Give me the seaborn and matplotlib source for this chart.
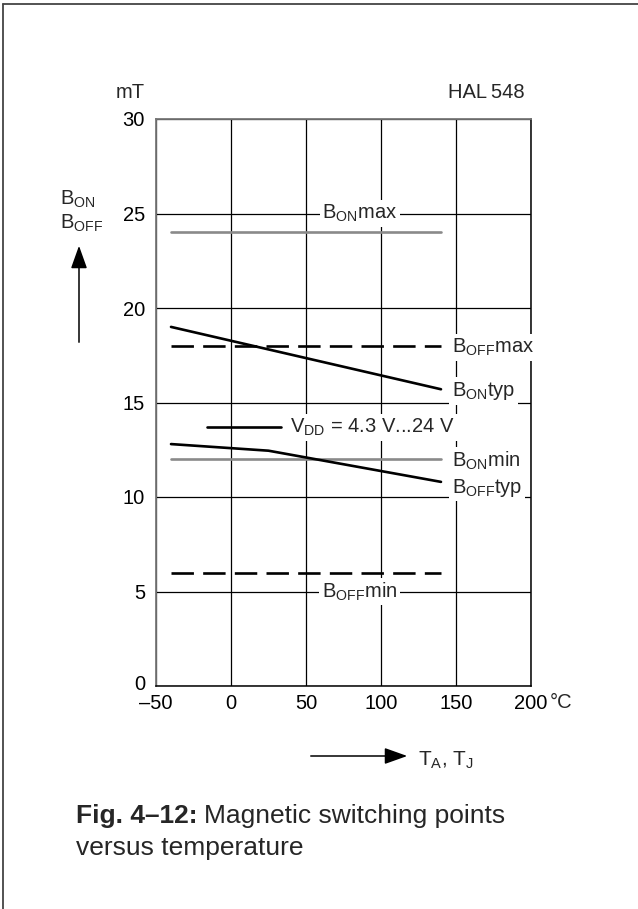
import numpy as np
import pandas as pd
import matplotlib
matplotlib.use("Agg")
import matplotlib.pyplot as plt
import matplotlib.transforms as mtransforms
from matplotlib.lines import Line2D
import seaborn as sns

# data (mT vs degC)
t_range = [-40, 140]
bon_max = [24, 24]
boff_max = [18, 18]
bon_min = [12, 12]
boff_min = [6, 6]
bon_typ_t = [-40, 140]
bon_typ = [19.0, 15.7]
boff_typ_t = [-40, 25, 140]
boff_typ = [12.8, 12.45, 10.8]
vdd_key_t = [-16, 33]
vdd_key_y = [13.7, 13.7]

x_ticks = [-50, 0, 50, 100, 150, 200]
x_labels = ["\u201350", "0", "50", "100", "150", "200"]
y_ticks = [0, 5, 10, 15, 20, 25, 30]

sns.set_style("white")
plt.rcParams["font.family"] = ["Liberation Sans", "DejaVu Sans"]
plt.rcParams["mathtext.fontset"] = "custom"
plt.rcParams["mathtext.rm"] = "Liberation Sans"
plt.rcParams["mathtext.it"] = "Liberation Sans"

W, H = 638, 909
fig = plt.figure(figsize=(W / 100, H / 100), dpi=100)
ax = fig.add_axes([156 / W, 1 - 686 / H, 375 / W, 567 / H])


def fx(px):
    return px / W


def fy(py):
    return 1 - py / H


gray = "#8a8a8a"
lw = 1.9
sns.lineplot(x=t_range, y=bon_max, ax=ax, color=gray, lw=lw)
sns.lineplot(x=t_range, y=bon_min, ax=ax, color=gray, lw=lw)
sns.lineplot(x=t_range, y=boff_max, ax=ax, color="black", lw=lw)
sns.lineplot(x=t_range, y=boff_min, ax=ax, color="black", lw=lw)
sns.lineplot(x=bon_typ_t, y=bon_typ, ax=ax, color="black", lw=lw)
sns.lineplot(x=boff_typ_t, y=boff_typ, ax=ax, color="black", lw=lw)
sns.lineplot(x=vdd_key_t, y=vdd_key_y, ax=ax, color="black", lw=lw)
for ln in ax.lines[2:4]:
    ln.set_dashes((8.5, 3.5))

ax.set_xlim(-50, 200)
ax.set_ylim(0, 30)
ax.set_xticks(x_ticks)
ax.set_xticklabels(x_labels)
ax.set_yticks(y_ticks)
fs = 14.5
ax.tick_params(length=0, labelsize=fs, colors="black")
ax.tick_params(axis="x", pad=6)
ax.tick_params(axis="y", pad=8)
ax.grid(True, color="black", lw=0.9)
ax.set_axisbelow(True)
for side in ["left", "top"]:
    ax.spines[side].set_color("#777777")
    ax.spines[side].set_linewidth(1.3)
for side in ["bottom", "right"]:
    ax.spines[side].set_color("black")
    ax.spines[side].set_linewidth(1.1)
ax.set_xlabel("")
ax.set_ylabel("")

# lift the "0" on the y axis a little so it clears the "-50" below it
zero_lbl = ax.get_yticklabels()[0]
zero_lbl.set_transform(zero_lbl.get_transform() +
                       mtransforms.ScaledTranslation(0, 4 / 100, fig.dpi_scale_trans))

box = dict(facecolor="white", edgecolor="none", pad=2)
ax.text(86, 25, r"B$_{\mathrm{ON}}$max", ha="center", va="center", fontsize=fs, bbox=box)
ax.text(147.5, 17.9, r"B$_{\mathrm{OFF}}$max", ha="left", va="center", fontsize=fs, bbox=box)
ax.text(147.5, 15.6, r"B$_{\mathrm{ON}}$typ", ha="left", va="center", fontsize=fs, bbox=box)
ax.text(147.5, 11.9, r"B$_{\mathrm{ON}}$min", ha="left", va="center", fontsize=fs, bbox=box)
ax.text(147.5, 10.5, r"B$_{\mathrm{OFF}}$typ", ha="left", va="center", fontsize=fs, bbox=box)
ax.text(85.5, 5, r"B$_{\mathrm{OFF}}$min", ha="center", va="center", fontsize=fs, bbox=box)
ax.text(39.5, 13.7, r"V$_{\mathrm{DD}}$ = 4.3 V...24 V", ha="left", va="center", fontsize=fs, bbox=box)

# labels outside the axes
fig.text(fx(550), fy(703), "\u00b0C", ha="left", va="center", fontsize=fs)
fig.text(fx(145), fy(92), "mT", ha="right", va="center", fontsize=fs)
fig.text(fx(525), fy(92), "HAL\u2009548", ha="right", va="center", fontsize=fs)
fig.text(fx(60), fy(205), r"B$_{\mathrm{ON}}$", ha="left", va="baseline", fontsize=fs)
fig.text(fx(60), fy(229), r"B$_{\mathrm{OFF}}$", ha="left", va="baseline", fontsize=fs)
fig.add_artist(matplotlib.patches.FancyArrowPatch(
    (fx(79), fy(345)), (fx(79), fy(243)), transform=fig.transFigure,
    arrowstyle="-|>,head_length=0.7,head_width=0.25", mutation_scale=20,
    color="black", lw=1.1))
fig.add_artist(matplotlib.patches.FancyArrowPatch(
    (fx(308), fy(756)), (fx(410), fy(756)), transform=fig.transFigure,
    arrowstyle="-|>,head_length=0.7,head_width=0.25", mutation_scale=20,
    color="black", lw=1.1))
fig.text(fx(418), fy(766), r"T$_{\mathrm{A}}$, T$_{\mathrm{J}}$", ha="left", va="baseline", fontsize=15)

# caption
cap_fs = 19
t1 = fig.text(fx(76), fy(823), "Fig. 4\u201312:", ha="left", va="baseline",
              fontsize=cap_fs, fontweight="bold")
r = fig.canvas.get_renderer()
bb = t1.get_window_extent(renderer=r)
fig.text(bb.x1 / W + 7 / W, fy(823), "Magnetic switching points", ha="left",
         va="baseline", fontsize=cap_fs)
fig.text(fx(76), fy(855), "versus temperature", ha="left", va="baseline", fontsize=cap_fs)

# page frame (left and top edges)
fig.add_artist(Line2D([fx(3), fx(3)], [0, fy(4)], transform=fig.transFigure, color="#444444", lw=1.3))
fig.add_artist(Line2D([fx(3), 1], [fy(4), fy(4)], transform=fig.transFigure, color="#444444", lw=1.3))

fig.savefig("out.png", dpi=100)
